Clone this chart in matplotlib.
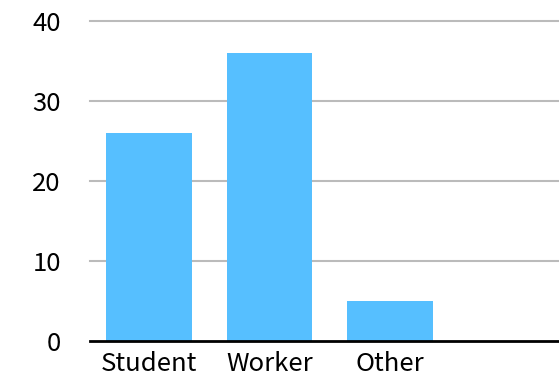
import matplotlib
matplotlib.use("Agg")
import matplotlib.pyplot as plt

categories = ["Student", "Worker", "Other"]
values = [26, 36, 5]
yticks = [0, 10, 20, 30, 40]

plt.rcParams['font.family'] = ['Noto Sans CJK JP', 'DejaVu Sans']

fig = plt.figure(figsize=(5.59, 3.76), dpi=100)
ax = fig.add_axes([90/559, 35/376, 469/559, 320/376])

x = list(range(len(categories)))
ax.bar(x, values, width=0.71, color="#56BFFF", zorder=2)

ax.set_xlim(-0.49, 3.40)
ax.set_ylim(0, 40)
ax.set_yticks(yticks)
for t in yticks[1:]:
    ax.axhline(t, color="#BBBBBB", linewidth=1.5, zorder=1, clip_on=False)
ax.axhline(0, color="black", linewidth=2, zorder=3, clip_on=False)

ax.set_xticks(x)
ax.set_xticklabels(categories, fontsize=18.5)
ax.tick_params(axis='x', length=0, pad=7)
ax.tick_params(axis='y', length=0, pad=21, labelsize=18.5)
for s in ax.spines.values():
    s.set_visible(False)

fig.savefig("out.png", dpi=100)
